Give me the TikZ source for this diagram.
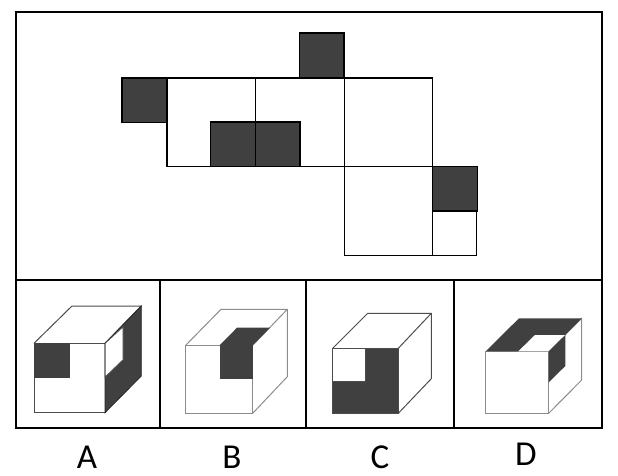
\documentclass[tikz,border=0pt]{standalone}
\usepackage{fontspec}
\setmainfont{Carlito}
\definecolor{facedark}{HTML}{404040}
\definecolor{edgegray}{HTML}{8C8C8C}
\tikzset{
  frameline/.style={line width=1.6pt,draw=black},
  netline/.style={line width=1.4pt,draw=black},
  darkface/.style={fill=facedark,draw=black!85,line width=0.8pt},
  cubeline/.style={line width=1pt,draw=black!70},
  greycube/.style={line width=1pt,draw=edgegray},
  answer/.style={font=\fontsize{35}{40}\selectfont,inner sep=0pt}
}
\begin{document}
\begin{tikzpicture}[x=1pt,y=-1pt]
      \useasboundingbox (0,0) rectangle (618,476);
      % outer frame
      \draw[frameline] (16,12) rectangle (602,428);
      \draw[frameline] (16,280)--(602,280);
      \foreach \x in {160,306,454} \draw[frameline] (\x,280)--(\x,428);
      % net
      \foreach \x/\y in {299.5/33,122/78,210.7/122,255.5/122,432.7/166.7}
        \draw[darkface,netline] (\x,\y) rectangle ++(44.5,44.5);
      \draw[netline] (167,78) rectangle (255.5,166.7);
      \draw[netline] (255.5,78) rectangle (344.5,166.7);
      \draw[netline] (344.5,78) rectangle (432.7,166.7);
      \draw[netline] (344.5,166.7) rectangle (432.7,255.5);
      \draw[netline] (432.7,211) rectangle (476.7,255.5);
      % cube A
      \draw[cubeline] (34,343.3)--(72,306)--(141.3,306)--(105,343.3);
      \draw[cubeline] (34,343.3) rectangle (105,412.7);
      \fill[facedark] (34,343.3) rectangle (70,378);
      \draw[darkface] (105,343.3)--(141.3,306)--(141.3,376)--(105,412.7)--cycle;
      \draw[cubeline,fill=white] (105,343.3)--(123,326.7)--(123,360)--(105,377.3)--cycle;
      % cube B
      \draw[greycube] (185.7,345.3) rectangle (252.7,413.3);
      \draw[greycube] (185.7,345.3)--(221,309.3)--(287.3,309.3)--(287.3,376.7)--(252.7,413.3);
      \draw[greycube] (252.7,345.3)--(287.3,309.3);
      \fill[facedark] (219.7,345.3) rectangle (252.7,378.7);
      \fill[facedark] (219.7,345.3)--(252.7,345.3)--(270,327.7)--(237,327.7)--cycle;
      % cube C
      \fill[facedark] (332.7,348.3) rectangle (398.3,413.3);
      \draw[cubeline] (332.7,348.3) rectangle (398.3,413.3);
      \draw[cubeline,fill=white] (332.7,348.3) rectangle (365,381.7);
      \draw[cubeline] (332.7,348.3)--(367.7,313.3)--(431.3,313.3)--(431.3,378.7)--(398.3,413.3);
      \draw[cubeline] (398.3,348.3)--(431.3,313.3);
      % cube D
      \draw[greycube] (485.7,351.3) rectangle (548.7,413.3);
      \draw[greycube] (548.7,351.3)--(581.7,318.3)--(581.7,380)--(548.7,413.3);
      \fill[facedark] (485.7,351.3)--(519,318.3)--(581.7,318.3)--(548.7,351.3)--cycle;
      \fill[white] (518.3,351.3)--(548.7,351.3)--(565.3,335)--(535,335)--cycle;
      \fill[facedark] (548.7,351.3)--(565.3,335)--(565.3,366)--(548.7,382.3)--cycle;
      % labels
      \node[answer] (labelA) at (87,457) {A};
      \node[answer] (labelB) at (232,457) {B};
      \node[answer] (labelC) at (380,457) {C};
      \node[answer] (labelD) at (526,454) {D};
    \end{tikzpicture}
\end{document}
